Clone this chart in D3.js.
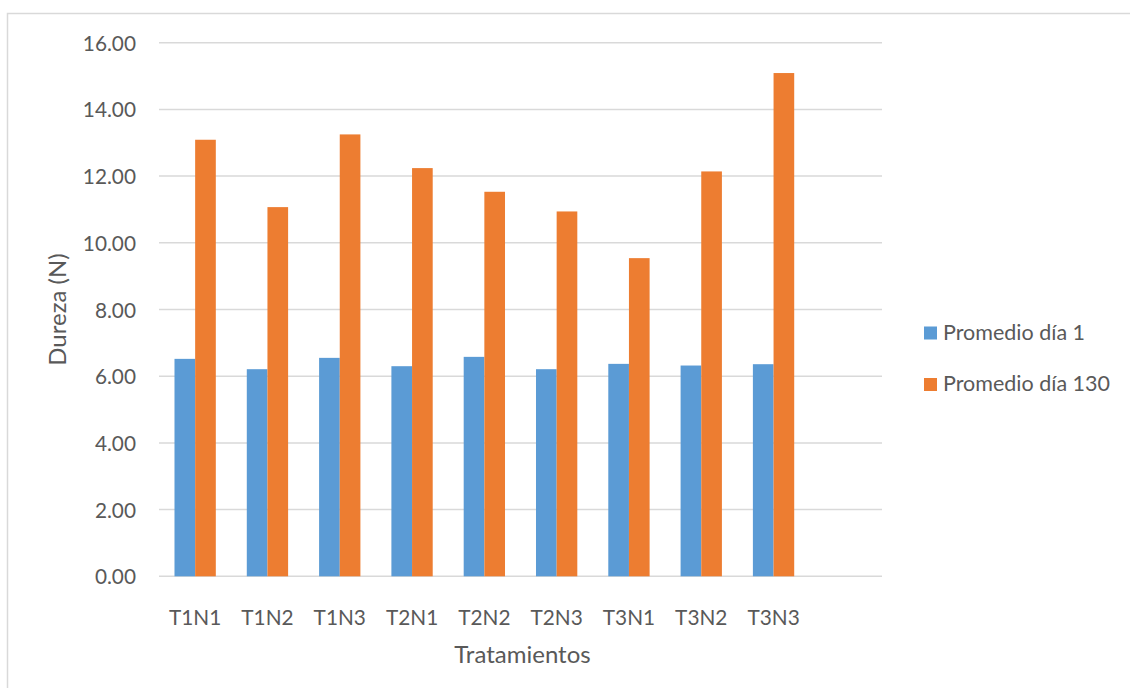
<!DOCTYPE html>
<html>
<head>
<meta charset="utf-8">
<script src="https://cdn.jsdelivr.net/npm/d3@7/dist/d3.min.js"></script>
<style>
  html, body { margin: 0; padding: 0; background: #ffffff; }
  svg { display: block; }
  text { font-family: Lato, "Open Sans", "DejaVu Sans", sans-serif; fill: #595959; }
</style>
</head>
<body>
<svg id="chart" width="1130" height="688"></svg>
<script>
// Hardness per treatment (N)
const categories = ["T1N1", "T1N2", "T1N3", "T2N1", "T2N2", "T2N3", "T3N1", "T3N2", "T3N3"];
const seriesNames = ["Promedio día 1", "Promedio día 130"];
const day1Values = [6.52, 6.21, 6.55, 6.30, 6.58, 6.21, 6.37, 6.32, 6.36];
const day130Values = [13.09, 11.07, 13.25, 12.24, 11.53, 10.94, 9.54, 12.14, 15.09];
const yTicks = [0, 2, 4, 6, 8, 10, 12, 14, 16];
const colors = ["#5B9BD5", "#ED7D31"];

const svg = d3.select("#chart");

// outer chart frame (runs past the right and bottom edges)
svg.append("rect")
  .attr("x", 7.5).attr("y", 13.5)
  .attr("width", 1200).attr("height", 800)
  .attr("fill", "none").attr("stroke", "#D9D9D9").attr("stroke-width", 1.5);

const plot = { left: 159, right: 882, top: 42.7, bottom: 576.3 };
const slots = categories.length + 1;          // one empty slot trails the last group
const step = (plot.right - plot.left) / slots;

const x = d3.scaleBand()
  .domain(categories)
  .range([plot.left, plot.left + step * categories.length]);

// gap width 150% between groups
const xSub = d3.scaleBand()
  .domain(seriesNames)
  .range([step * 0.75 / 3.5, step * 2.75 / 3.5]);

const y = d3.scaleLinear().domain([0, 16]).range([plot.bottom, plot.top]);

// gridlines
svg.append("g")
  .selectAll("line")
  .data(yTicks)
  .join("line")
  .attr("x1", plot.left).attr("x2", plot.right)
  .attr("y1", d => y(d)).attr("y2", d => y(d))
  .attr("stroke", "#D9D9D9").attr("stroke-width", 1.5);

const tickFont = 20.8;

// y tick labels
const yAxis = d3.axisLeft(y).tickValues(yTicks).tickFormat(d3.format(".2f")).tickSize(0).tickPadding(0);
const gy = svg.append("g").attr("transform", `translate(${plot.left - 23},0)`).call(yAxis);
gy.select(".domain").remove();
gy.selectAll("text")
  .attr("font-size", tickFont).attr("dy", "0.36em")
  .style("font-family", "Lato, 'Open Sans', sans-serif").attr("fill", "#595959");

// bars
const rows = categories.map((c, i) => ({ cat: c, vals: [day1Values[i], day130Values[i]] }));
const groups = svg.append("g")
  .selectAll("g")
  .data(rows)
  .join("g")
  .attr("transform", d => `translate(${x(d.cat)},0)`);

groups.selectAll("rect")
  .data(d => d.vals.map((v, k) => ({ name: seriesNames[k], value: v, k })))
  .join("rect")
  .attr("x", d => xSub(d.name))
  .attr("width", xSub.bandwidth())
  .attr("y", d => y(d.value))
  .attr("height", d => y(0) - y(d.value))
  .attr("fill", d => colors[d.k]);

// x tick labels
const xAxis = d3.axisBottom(x).tickSize(0).tickPadding(0);
const gx = svg.append("g").attr("transform", `translate(0,${plot.bottom})`).call(xAxis);
gx.select(".domain").remove();
gx.selectAll("text")
  .attr("font-size", tickFont).attr("dy", null).attr("y", 48.5)
  .style("font-family", "Lato, 'Open Sans', sans-serif").attr("fill", "#595959");

// axis titles
svg.append("text")
  .attr("x", (plot.left + plot.right) / 2 + 2).attr("y", 663)
  .attr("text-anchor", "middle").attr("font-size", 24)
  .text("Tratamientos");

svg.append("text")
  .attr("transform", `translate(66,${(plot.top + plot.bottom) / 2}) rotate(-90)`)
  .attr("text-anchor", "middle").attr("font-size", 24)
  .text("Dureza (N)");

// legend
const legend = svg.append("g")
  .selectAll("g")
  .data(seriesNames)
  .join("g")
  .attr("transform", (d, i) => `translate(924,${326.5 + i * 51.5})`);
legend.append("rect")
  .attr("width", 13).attr("height", 13)
  .attr("fill", (d, i) => colors[i]);
legend.append("text")
  .attr("x", 19).attr("y", 13)
  .attr("font-size", 21.5)
  .text(d => d);
</script>
</body>
</html>
